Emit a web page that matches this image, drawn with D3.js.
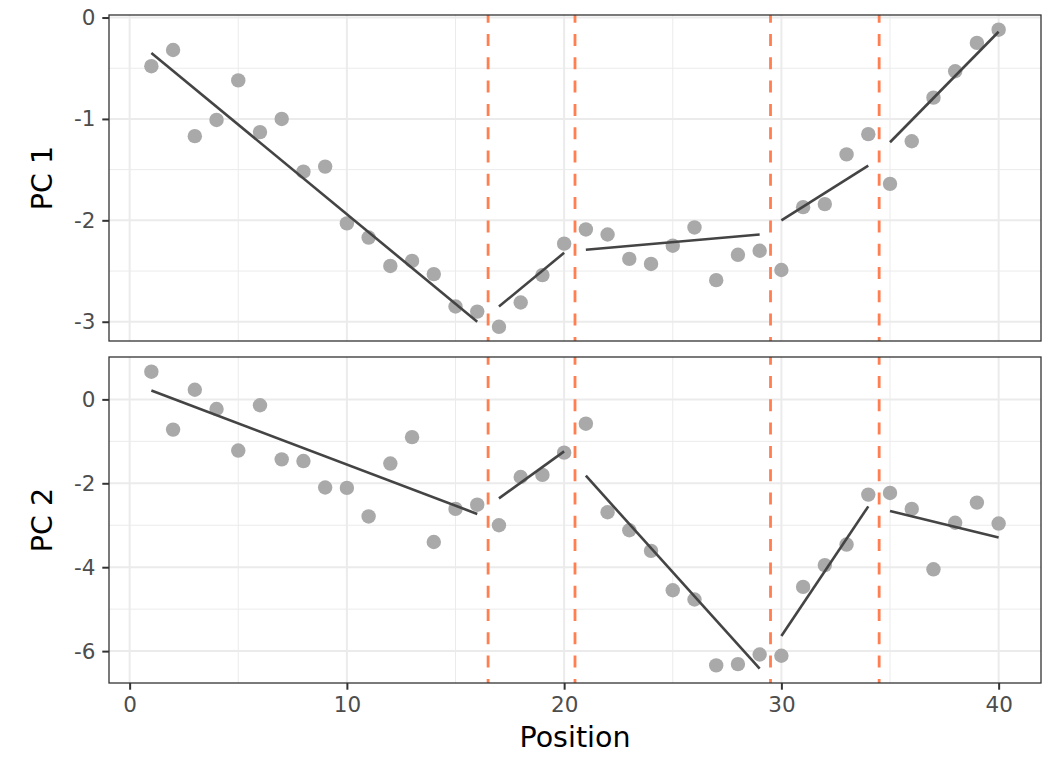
<!DOCTYPE html>
<html>
<head>
<meta charset="utf-8">
<script src="https://cdn.jsdelivr.net/npm/d3@7"></script>
<style>
  body { margin: 0; background: #fff; }
  text { font-family: "DejaVu Sans", sans-serif; }
</style>
</head>
<body>
<script>
// data
var positions = [1,2,3,4,5,6,7,8,9,10,11,12,13,14,15,16,17,18,19,20,
                 21,22,23,24,25,26,27,28,29,30,31,32,33,34,35,36,37,38,39,40];

var pc1 = [-0.48,-0.32,-1.17,-1.01,-0.62,-1.13,-1.00,-1.52,-1.47,-2.03,
           -2.17,-2.45,-2.40,-2.53,-2.85,-2.90,-3.05,-2.81,-2.54,-2.23,
           -2.09,-2.14,-2.38,-2.43,-2.25,-2.07,-2.59,-2.34,-2.30,-2.49,
           -1.87,-1.84,-1.35,-1.15,-1.64,-1.22,-0.79,-0.53,-0.25,-0.12];

var pc2 = [0.66,-0.72,0.23,-0.23,-1.22,-0.14,-1.43,-1.47,-2.10,-2.11,
           -2.79,-1.53,-0.90,-3.40,-2.61,-2.51,-3.00,-1.85,-1.80,-1.27,
           -0.58,-2.69,-3.12,-3.61,-4.55,-4.77,-6.34,-6.31,-6.08,-6.11,
           -4.47,-3.95,-3.46,-2.27,-2.23,-2.61,-4.05,-2.94,-2.46,-2.96];

// breakpoints (dashed lines)
var breakpoints = [16.5, 20.5, 29.5, 34.5];

// fitted segments, one per block between breakpoints
var segStart = [1, 17, 21, 30, 35];
var segEnd = [16, 20, 29, 34, 40];
var pc1FitStart = [-0.35, -2.85, -2.29, -2.00, -1.23];
var pc1FitEnd = [-3.00, -2.32, -2.14, -1.46, -0.14];
var pc2FitStart = [0.21, -2.36, -1.82, -5.64, -2.66];
var pc2FitEnd = [-2.73, -1.24, -6.42, -2.55, -3.29];

// ticks
var xTicks = [0, 10, 20, 30, 40];
var xMinor = [5, 15, 25, 35];
var pc1Ticks = [0, -1, -2, -3];
var pc1Minor = [-0.5, -1.5, -2.5];
var pc2Ticks = [0, -2, -4, -6];
var pc2Minor = [-1, -3, -5];

var width = 1056;
var height = 768;
var left = 109, right = 1041;
var tickFont = 21.5;

var svg = d3.select('body').append('svg').attr('width', width).attr('height', height);
svg.append('rect').attr('width', width).attr('height', height).attr('fill', '#fff');

var x = d3.scaleLinear().domain([-0.95, 41.95]).range([left, right]);

var drawPanel = function(values, fitStart, fitEnd, yDomain, top, bottom, ticks, minor, title){
  var y = d3.scaleLinear().domain(yDomain).range([bottom, top]);
  var g = svg.append('g');

  // grid
  g.selectAll('.xminor').data(xMinor).enter().append('line')
    .attr('x1', function(d){ return x(d); }).attr('x2', function(d){ return x(d); })
    .attr('y1', top).attr('y2', bottom)
    .attr('stroke', '#ebebeb').attr('stroke-width', 1);
  g.selectAll('.yminor').data(minor).enter().append('line')
    .attr('x1', left).attr('x2', right)
    .attr('y1', function(d){ return y(d); }).attr('y2', function(d){ return y(d); })
    .attr('stroke', '#ebebeb').attr('stroke-width', 1);
  g.selectAll('.xmajor').data(xTicks).enter().append('line')
    .attr('x1', function(d){ return x(d); }).attr('x2', function(d){ return x(d); })
    .attr('y1', top).attr('y2', bottom)
    .attr('stroke', '#ebebeb').attr('stroke-width', 2);
  g.selectAll('.ymajor').data(ticks).enter().append('line')
    .attr('x1', left).attr('x2', right)
    .attr('y1', function(d){ return y(d); }).attr('y2', function(d){ return y(d); })
    .attr('stroke', '#ebebeb').attr('stroke-width', 2);

  // breakpoints
  g.selectAll('.vline').data(breakpoints).enter().append('line')
    .attr('x1', function(d){ return x(d); }).attr('x2', function(d){ return x(d); })
    .attr('y1', top).attr('y2', bottom)
    .attr('stroke', '#ff7f50').attr('stroke-width', 2.8)
    .attr('stroke-dasharray', '12,11.3').attr('stroke-dashoffset', 4.3);

  // points
  g.selectAll('.pt').data(values).enter().append('circle')
    .attr('cx', function(d, i){ return x(positions[i]); })
    .attr('cy', function(d){ return y(d); })
    .attr('r', 7.2)
    .attr('fill', '#a9a9a9');

  // fitted segments
  g.selectAll('.fit').data(segStart).enter().append('line')
    .attr('x1', function(d){ return x(d); })
    .attr('x2', function(d, i){ return x(segEnd[i]); })
    .attr('y1', function(d, i){ return y(fitStart[i]); })
    .attr('y2', function(d, i){ return y(fitEnd[i]); })
    .attr('stroke', '#444').attr('stroke-width', 2.6);

  // border
  g.append('rect')
    .attr('x', left).attr('y', top)
    .attr('width', right - left).attr('height', bottom - top)
    .attr('fill', 'none').attr('stroke', '#333').attr('stroke-width', 1.3);

  // y axis
  var yAxis = d3.axisLeft(y).tickValues(ticks).tickSize(6.7).tickPadding(7)
    .tickFormat(function(d){ return d3.format('d')(d).replace('\u2212', '-'); });
  var ya = g.append('g').attr('transform', 'translate(' + left + ',0)').call(yAxis);
  ya.select('.domain').remove();
  ya.selectAll('.tick line').attr('stroke', '#333').attr('stroke-width', 2);
  ya.selectAll('.tick text')
    .attr('font-size', tickFont).attr('fill', '#4d4d4d')
    .attr('font-family', 'DejaVu Sans');

  svg.append('text')
    .attr('transform', 'translate(51.7,' + ((top + bottom) / 2) + ') rotate(-90)')
    .attr('text-anchor', 'middle')
    .attr('font-size', 28.5).attr('fill', '#000')
    .text(title);
};

drawPanel(pc1, pc1FitStart, pc1FitEnd, [-3.19, 0.025], 15, 341, pc1Ticks, pc1Minor, 'PC 1');
drawPanel(pc2, pc2FitStart, pc2FitEnd, [-6.76, 1.01], 357, 683, pc2Ticks, pc2Minor, 'PC 2');

// x axis under the bottom panel
var xAxis = d3.axisBottom(x).tickValues(xTicks).tickSize(6.7).tickPadding(7);
var xa = svg.append('g').attr('transform', 'translate(0,683)').call(xAxis);
xa.select('.domain').remove();
xa.selectAll('.tick line').attr('stroke', '#333').attr('stroke-width', 2);
xa.selectAll('.tick text')
  .attr('font-size', tickFont).attr('fill', '#4d4d4d')
  .attr('font-family', 'DejaVu Sans');

svg.append('text')
  .attr('x', (left + right) / 2).attr('y', 746.7)
  .attr('text-anchor', 'middle')
  .attr('font-size', 28.5).attr('fill', '#000')
  .text('Position');
</script>
</body>
</html>
